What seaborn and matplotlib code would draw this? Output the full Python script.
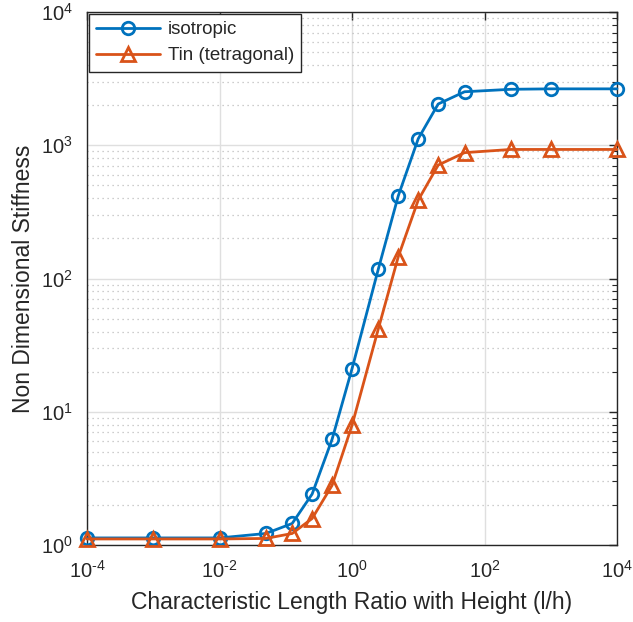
import numpy as np
import pandas as pd
import matplotlib
matplotlib.use("Agg")
import matplotlib.pyplot as plt
import matplotlib.ticker as mticker
import seaborn as sns

# ---- data ----
ratio = [1e-4, 1e-3, 1e-2, 0.05, 0.125, 0.25, 0.5, 1.0, 2.5, 5.0, 10.0, 20.0, 50.0, 250.0, 1000.0, 10000.0]
iso = [1.13, 1.13, 1.13, 1.22, 1.45, 2.41, 6.2, 21.0, 118, 418, 1120, 2040, 2520, 2630, 2650, 2650]
tin = [1.11, 1.11, 1.11, 1.12, 1.22, 1.58, 2.8, 7.9, 42, 146, 388, 710, 880, 930, 930, 930]
labels = ["isotropic", "Tin (tetragonal)"]

sns.set_style("white")
plt.rcParams['font.family'] = ['Liberation Sans', 'DejaVu Sans']
plt.rcParams['mathtext.fontset'] = 'custom'
plt.rcParams['mathtext.rm'] = 'Liberation Sans'
plt.rcParams['mathtext.it'] = 'Liberation Sans:italic'
plt.rcParams['mathtext.default'] = 'regular'
plt.rcParams['axes.unicode_minus'] = False

fig = plt.figure(figsize=(6.33, 6.22), dpi=100)
ax = fig.add_axes([87/633, 77/622, 530/633, 533/622])

blue = '#0072BD'
orange = '#D95319'
sns.lineplot(x=ratio, y=iso, ax=ax, color=blue, marker='o', markersize=9,
             markerfacecolor='none', markeredgecolor=blue, markeredgewidth=2,
             linewidth=2, label=labels[0], legend=False, zorder=3, clip_on=False)
sns.lineplot(x=ratio, y=tin, ax=ax, color=orange, marker='^', markersize=10,
             markerfacecolor='none', markeredgecolor=orange, markeredgewidth=2,
             linewidth=2, label=labels[1], legend=False, zorder=3, clip_on=False)

ax.set_xscale('log')
ax.set_yscale('log')
ax.set_xlim(1e-4, 1e4)
ax.set_ylim(1, 1e4)


def pow10(v, pos=None):
    e = int(round(np.log10(v)))
    if e < 0:
        return r'$10^{\text{-}%d}$' % (-e)
    return r'$10^{%d}$' % e


ax.xaxis.set_major_locator(mticker.FixedLocator([1e-4, 1e-2, 1, 1e2, 1e4]))
ax.xaxis.set_major_formatter(mticker.FuncFormatter(pow10))
ax.xaxis.set_minor_locator(mticker.NullLocator())
ax.yaxis.set_major_locator(mticker.FixedLocator([1, 10, 100, 1000, 10000]))
ax.yaxis.set_major_formatter(mticker.FuncFormatter(pow10))
ax.yaxis.set_minor_locator(mticker.LogLocator(base=10, subs=np.arange(2, 10), numticks=20))
ax.yaxis.set_minor_formatter(mticker.NullFormatter())

ax.grid(True, which='major', color='#dfdfdf', linewidth=1, linestyle='-')
ax.grid(True, which='minor', axis='y', color='#bdbdbd', linewidth=0.9, linestyle=(0, (1, 3)))
ax.set_axisbelow(True)

dark = '#262626'
for s in ax.spines.values():
    s.set_color(dark)
    s.set_linewidth(1.0)
    s.set_visible(True)
ax.tick_params(which='both', direction='in', top=True, right=True, colors=dark,
               labelsize=14.5, labelcolor=dark)
ax.tick_params(which='major', length=6, width=1)
ax.tick_params(which='minor', length=3.5, width=0.8)
ax.tick_params(axis='x', pad=11)
ax.tick_params(axis='y', pad=10)

ax.set_xlabel('Characteristic Length Ratio with Height (l/h)', fontsize=16.5, color=dark, labelpad=6)
ax.set_ylabel('Non Dimensional Stiffness', fontsize=16.5, color=dark, labelpad=4)

leg = ax.legend(loc='upper left', fontsize=13.5, frameon=True, fancybox=False,
                edgecolor=dark, borderaxespad=0.1, handlelength=3.4, framealpha=1,
                borderpad=0.4, labelspacing=0.45, handletextpad=0.4)
leg.get_frame().set_linewidth(1.0)

fig.savefig('out.png', dpi=100)
